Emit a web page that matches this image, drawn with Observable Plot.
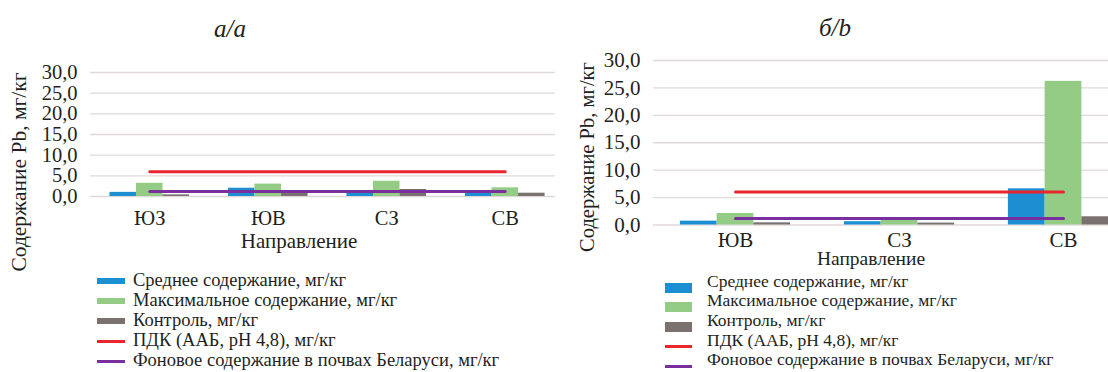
<!DOCTYPE html>
<html>
<head>
<meta charset="utf-8">
<script src="https://cdn.jsdelivr.net/npm/d3@7"></script>
<script src="https://cdn.jsdelivr.net/npm/@observablehq/plot@0.6"></script>
<style>
  body { margin: 0; background: #fff; }
  #page { position: relative; width: 1108px; height: 372px; overflow: hidden;
          font-family: "Liberation Serif", "Tinos", "Times New Roman", "DejaVu Serif", serif; color: #231f20; }
  .abs { position: absolute; white-space: nowrap; line-height: 1; }
  .title { font-style: italic; transform: translateX(-50%); }
  .xlab { transform: translateX(-50%); }
  .ylab { transform: translate(-50%, -50%) rotate(-90deg); }
  .row { position: absolute; height: 20px; line-height: 20px; white-space: nowrap; }
  .sw { position: absolute; }
  .panel svg { position: absolute; top: 0; }
</style>
</head>
<body>
<div id="page"></div>
<script>
// Lead (Pb) content in soil by direction from the source, mg/kg
const seriesNames = ["Среднее содержание, мг/кг", "Максимальное содержание, мг/кг", "Контроль, мг/кг"];
const lineNames = ["ПДК (ААБ, pH 4,8), мг/кг", "Фоновое содержание в почвах Беларуси, мг/кг"];
const seriesColors = ["#1b8fd1", "#95cc85", "#7b716e"];
const lineColors = ["#e8262b", "#7a2f9f"];
const yTicks = [0, 5, 10, 15, 20, 25, 30];

// panel а/a
const catsA = ["ЮЗ", "ЮВ", "СЗ", "СВ"];
const meanA = [1.0, 2.0, 1.0, 1.0];
const maxA = [3.2, 3.0, 3.7, 2.1];
const controlA = [0.4, 1.0, 1.7, 0.8];
const pdkA = [6.0, 6.0, 6.0, 6.0];
const backgroundA = [1.2, 1.2, 1.2, 1.2];

// panel б/b
const catsB = ["ЮВ", "СЗ", "СВ"];
const meanB = [0.7, 0.6, 6.6];
const maxB = [2.1, 1.1, 26.2];
const controlB = [0.4, 0.35, 1.5];
const pdkB = [6.0, 6.0, 6.0];
const backgroundB = [1.2, 1.2, 1.2];

const fontStack = '"Liberation Serif", "Tinos", "Times New Roman", "DejaVu Serif", serif';
const page = document.getElementById("page");
const fmt = d => d.toFixed(1).replace(".", ",");
const barFrac = 0.224; // bar width as a share of one category step

function addText(cls, text, left, top, size) {
  const el = document.createElement("div");
  el.className = "abs " + cls;
  el.textContent = text;
  el.style.left = left + "px";
  el.style.top = top + "px";
  el.style.fontSize = size + "px";
  page.appendChild(el);
  return el;
}

function panel(p) {
  const bars = [];
  [p.mean, p.max, p.control].forEach((vals, s) =>
    vals.forEach((v, i) => bars.push({cat: i, series: s, value: v})));
  const refs = [];
  [p.pdk, p.background].forEach((vals, k) =>
    vals.forEach((v, i) => refs.push({cat: i, ref: k, value: v})));
  const n = p.cats.length;

  const svg = Plot.plot({
    width: p.width,
    height: p.height,
    marginLeft: p.gridLeft,
    marginRight: 0,
    marginTop: p.top30,
    marginBottom: p.height - p.top0,
    style: {fontFamily: fontStack, fontSize: p.tickFont + "px",
            color: "#231f20", background: "transparent", overflow: "hidden"},
    x: {domain: [-0.5, n - 0.5], range: [p.gridLeft, p.gridLeft + p.step * n]},
    y: {domain: [0, 30], range: [p.top0, p.top30]},
    color: {type: "identity"},
    marks: [
      Plot.ruleY(yTicks, {stroke: "#e0d9d9", strokeWidth: 1.3}),
      Plot.rectY(bars, {
        x1: d => d.cat + (d.series - 1.5) * barFrac,
        x2: d => d.cat + (d.series - 0.5) * barFrac,
        y: "value",
        fill: d => seriesColors[d.series]
      }),
      Plot.lineY(refs, {x: "cat", y: "value", z: "ref", stroke: d => lineColors[d.ref], strokeWidth: 3}),
      Plot.axisY({ticks: yTicks, tickFormat: fmt, tickSize: 0, tickPadding: p.yPad, label: null}),
      Plot.axisX({ticks: d3.range(n), tickFormat: i => p.cats[i], tickSize: 0, tickPadding: p.xPad,
                  fontSize: p.catFont, label: null})
    ]
  });
  const wrap = document.createElement("div");
  wrap.className = "panel";
  svg.style.left = p.left + "px";
  wrap.appendChild(svg);
  page.appendChild(wrap);

  addText("title", p.title, p.titleX, p.titleTop, p.titleFont);
  addText("xlab", "Направление", p.xlabX, p.xlabTop, p.xlabFont);
  addText("ylab", "Содержание Pb, мг/кг", p.ylabX, p.ylabY, p.ylabFont);

  // legend
  const allNames = seriesNames.concat(lineNames);
  const allColors = seriesColors.concat(lineColors);
  allNames.forEach((name, k) => {
    const cy = p.legTop + k * p.legStep;
    const row = document.createElement("div");
    row.className = "row";
    row.style.left = p.legTextX + "px";
    row.style.top = (cy - 11) + "px";
    row.style.fontSize = p.legFont + "px";
    row.textContent = name;
    page.appendChild(row);
    const sw = document.createElement("div");
    sw.className = "sw";
    const h = k < 3 ? p.swH : 3;
    sw.style.left = p.swX + "px";
    sw.style.width = p.swW + "px";
    sw.style.height = h + "px";
    sw.style.top = (cy + p.swShift - h / 2) + "px";
    sw.style.background = allColors[k];
    page.appendChild(sw);
  });
}

panel({
  cats: catsA, mean: meanA, max: maxA, control: controlA, pdk: pdkA, background: backgroundA,
  left: 0, width: 555, height: 240, gridLeft: 90, step: 118.5, top30: 72, top0: 196,
  tickFont: 20.5, yPad: 13, catFont: 20.5, xPad: 14,
  title: "а/a", titleX: 230, titleTop: 16, titleFont: 25,
  xlabX: 299, xlabTop: 231, xlabFont: 21,
  ylabX: 20, ylabY: 172, ylabFont: 21.5,
  legTop: 281, legStep: 20, legFont: 18.5, legTextX: 133, swX: 97, swW: 28, swH: 6, swShift: 0
});

panel({
  cats: catsB, mean: meanB, max: maxB, control: controlB, pdk: pdkB, background: backgroundB,
  left: 560, width: 548, height: 260, gridLeft: 93, step: 164, top30: 60, top0: 224.5,
  tickFont: 21, yPad: 13, catFont: 21, xPad: 7,
  title: "б/b", titleX: 835, titleTop: 15, titleFont: 25,
  xlabX: 871, xlabTop: 249, xlabFont: 19.5,
  ylabX: 587, ylabY: 157, ylabFont: 20.5,
  legTop: 281.5, legStep: 19.7, legFont: 17.5, legTextX: 707, swX: 665, swW: 27, swH: 10, swShift: 6
});
</script>
</body>
</html>
